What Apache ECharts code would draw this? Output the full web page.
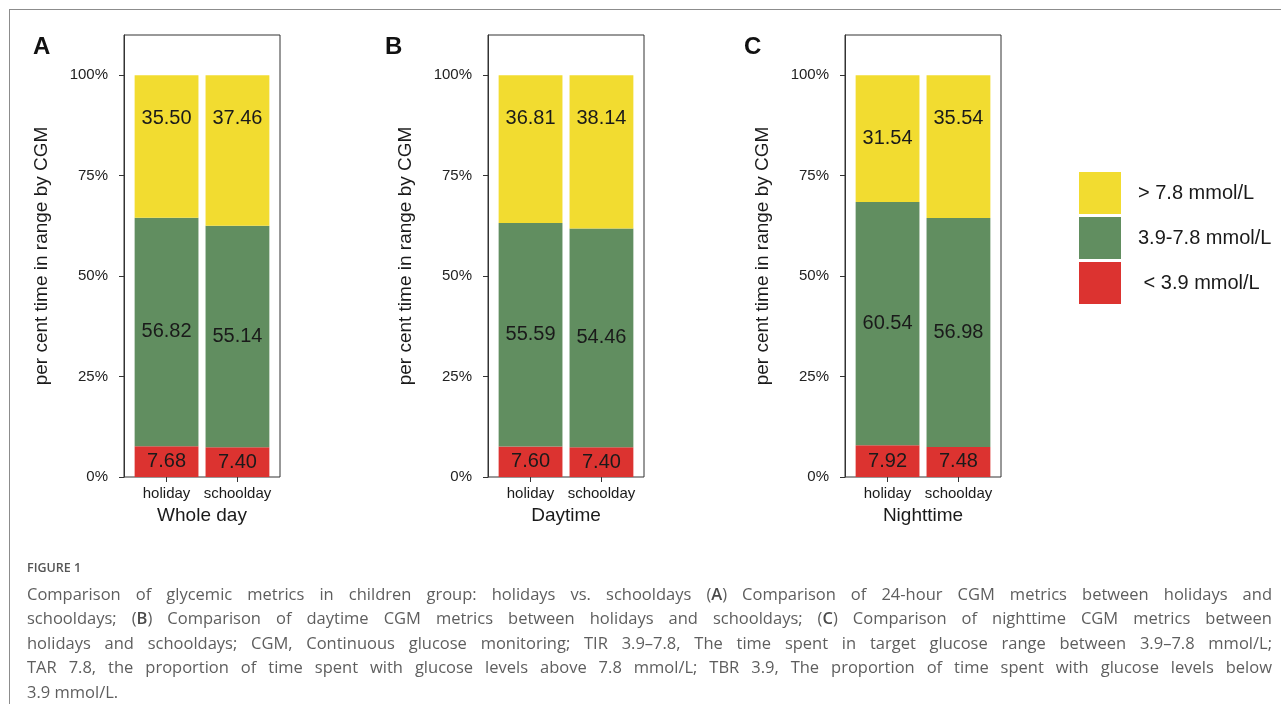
<!DOCTYPE html>
<html><head><meta charset="utf-8">
<script src="https://cdn.jsdelivr.net/npm/echarts@6/dist/echarts.min.js"></script>
<style>
html,body{margin:0;padding:0;background:#fff;}
#chart{position:absolute;left:0;top:0;width:1281px;height:704px;}
#frame{position:absolute;left:9px;top:9px;width:1272px;height:695px;border-top:1px solid #8c8c8c;border-left:1px solid #8c8c8c;box-sizing:border-box;}
#caption{position:absolute;left:27px;top:558px;width:1245px;font-family:"Open Sans",sans-serif;color:#5e5e5e;}
.fig{font-size:12.5px;font-weight:600;line-height:20px;height:24px;color:#555;}
.ln{font-size:16.5px;line-height:24.4px;text-align:justify;text-align-last:justify;}
.ln.last{text-align-last:left;}
.ln b{font-weight:600;color:#4a4a4a;}
</style></head>
<body>
<div id="frame"></div>
<div id="chart"></div>
<div id="caption">
<div class="fig">FIGURE 1</div>
<div class="ln">Comparison of glycemic metrics in children group: holidays vs. schooldays (<b>A</b>) Comparison of 24-hour CGM metrics between holidays and</div>
<div class="ln">schooldays; (<b>B</b>) Comparison of daytime CGM metrics between holidays and schooldays; (<b>C</b>) Comparison of nighttime CGM metrics between</div>
<div class="ln">holidays and schooldays; CGM, Continuous glucose monitoring; TIR 3.9–7.8, The time spent in target glucose range between 3.9–7.8 mmol/L;</div>
<div class="ln">TAR 7.8, the proportion of time spent with glucose levels above 7.8 mmol/L; TBR 3.9, The proportion of time spent with glucose levels below</div>
<div class="ln last">3.9 mmol/L.</div>
</div>
<script>
// ---- data ----
const categories = ['holiday', 'schoolday'];
const panelLetters = ['A', 'B', 'C'];
const panelTitles = ['Whole day', 'Daytime', 'Nighttime'];
const seriesNames = ['< 3.9 mmol/L', '3.9-7.8 mmol/L', '> 7.8 mmol/L'];
const yTicks = [0, 25, 50, 75, 100];

const lowWhole = [7.68, 7.40];
const inWhole = [56.82, 55.14];
const highWhole = [35.50, 37.46];

const lowDay = [7.60, 7.40];
const inDay = [55.59, 54.46];
const highDay = [36.81, 38.14];

const lowNight = [7.92, 7.48];
const inNight = [60.54, 56.98];
const highNight = [31.54, 35.54];

// ---- layout / style ----
const panelData = [[lowWhole, inWhole, highWhole], [lowDay, inDay, highDay], [lowNight, inNight, highNight]];
const colors = ['#DC3330', '#618E60', '#F2DC30'];
const frameLefts = [124, 488, 845];
const letterLefts = [33, 385, 744];
const frameW = 156, frameTop = 35, frameH = 442;
const unit = frameW / 2.2;
const font = '"Liberation Sans", Arial, sans-serif';
const ink = '#1a1a1a';
// yellow labels: top-anchored, except panel C holiday which is centred in the reference
const centredHigh = {'2-0': true};

const chart = echarts.init(document.getElementById('chart'), null, {renderer: 'canvas'});
const grid = [], xAxis = [], yAxis = [], series = [], title = [];

panelData.forEach((arrs, p) => {
  const L = frameLefts[p];
  grid.push({left: L, top: frameTop, width: frameW, height: frameH, show: true, borderColor: '#333', borderWidth: 1, containLabel: false});
  grid.push({left: L + unit * 0.1, top: frameTop, width: unit * 2, height: frameH, containLabel: false});
  const gf = p * 2, gi = p * 2 + 1;
  xAxis.push({gridIndex: gf, type: 'value', min: 0, max: 1, show: false});
  yAxis.push({
    gridIndex: gf, type: 'value', min: 0, max: 110,
    name: 'per cent time in range by CGM', nameLocation: 'middle', nameGap: 73,
    nameTextStyle: {fontFamily: font, fontSize: 19, color: ink},
    axisLine: {show: true, lineStyle: {color: '#333', width: 1}},
    axisTick: {show: true, length: 5, customValues: yTicks, lineStyle: {color: '#333'}},
    axisLabel: {customValues: yTicks, formatter: v => v + '%', margin: 16, fontFamily: font, fontSize: 15, color: '#222'},
    splitLine: {show: false}
  });
  xAxis.push({
    gridIndex: gi, type: 'category', data: categories,
    name: panelTitles[p], nameLocation: 'middle', nameGap: 25,
    nameTextStyle: {fontFamily: font, fontSize: 19, color: ink},
    axisLine: {show: false},
    axisTick: {show: true, alignWithLabel: true, length: 5, lineStyle: {color: '#333'}},
    axisLabel: {margin: 9, fontFamily: font, fontSize: 15, color: ink, interval: 0}
  });
  yAxis.push({gridIndex: gi, type: 'value', min: 0, max: 110, show: false, splitLine: {show: false}});

  arrs.forEach((vals, k) => {
    series.push({
      name: seriesNames[k], type: 'bar', stack: 'panel' + p,
      xAxisIndex: gi, yAxisIndex: gi,
      barWidth: '90%',
      itemStyle: {color: colors[k]},
      label: {show: true, position: k === 2 ? 'insideTop' : 'inside', distance: 33,
        formatter: d => d.value.toFixed(2), fontFamily: font, fontSize: 20, color: ink},
      emphasis: {disabled: true},
      data: vals.map((v, i) => (k === 2 && centredHigh[p + '-' + i]) ? {value: v, label: {position: 'inside'}} : v)
    });
  });

  title.push({text: panelLetters[p], left: letterLefts[p], top: 35, padding: 0,
    textStyle: {fontFamily: font, fontSize: 24, fontWeight: 'bold', color: '#111'}});
});

chart.setOption({
  animation: false,
  title, grid, xAxis, yAxis, series,
  legend: {
    data: [seriesNames[2], seriesNames[1], seriesNames[0]],
    orient: 'vertical', left: 1079, top: 172, padding: 0,
    itemWidth: 42, itemHeight: 42, itemGap: 3, icon: 'rect',
    selectedMode: false,
    formatter: n => n.startsWith('<') ? ' ' + n : n,
    textStyle: {fontFamily: font, fontSize: 20, color: ink, padding: [0, 0, 0, 12]}
  }
});
</script>
</body></html>
